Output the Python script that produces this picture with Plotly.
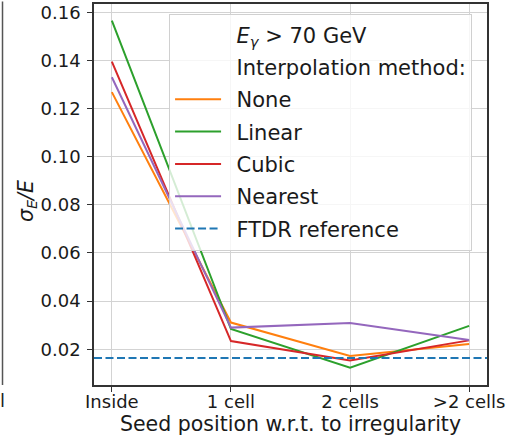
import plotly.graph_objects as go

categories = ["Inside", "1 cell", "2 cells", ">2 cells"]
none_vals = [0.1268, 0.0311, 0.0172, 0.0222]
linear_vals = [0.1565, 0.0284, 0.0124, 0.0297]
cubic_vals = [0.1395, 0.0234, 0.0154, 0.0237]
nearest_vals = [0.1330, 0.0290, 0.0309, 0.0239]
ftdr_ref = 0.0164
y_ticks = [0.02, 0.04, 0.06, 0.08, 0.10, 0.12, 0.14, 0.16]

series = [
    ("None", none_vals, "#ff7f0e"),
    ("Linear", linear_vals, "#2ca02c"),
    ("Cubic", cubic_vals, "#d62728"),
    ("Nearest", nearest_vals, "#9467bd"),
]

FONT = "DejaVu Sans"
PAD = "\u2002"
fig = go.Figure()

# header rows of legend (no line)
for i, txt in enumerate(["<i>E<sub>γ</sub></i> &gt; 70 GeV", "Interpolation method:"]):
    fig.add_trace(go.Scatter(x=[None], y=[None], mode="lines", name=PAD + txt,
                             line=dict(color="rgba(0,0,0,0)", width=2),
                             legendgroup=f"h{i}", hoverinfo="skip"))

for name, vals, col in series:
    fig.add_trace(go.Scatter(x=categories, y=vals, mode="lines", name=PAD + name,
                             line=dict(color=col, width=2), legendgroup=name))

fig.add_hline(y=ftdr_ref, line=dict(color="#1f77b4", width=2, dash="8px,3.5px"),
              showlegend=True, name=PAD + "FTDR reference", legendgroup="ftdr")

# y-axis title as rotated annotation for exact placement
fig.add_annotation(text="<i>σ<sub>E</sub>/E</i>", xref="paper", yref="paper",
                   x=-0.1705, y=0.483, xanchor="center", yanchor="middle",
                   textangle=-90, showarrow=False,
                   font=dict(family=FONT, size=20.5, color="#1a1a1a"))

# fragment of neighbouring panel at left edge (its right spine + cut label)
fig.add_annotation(text="", xref="paper", yref="paper", x=-0.2328, y=0,
                   showarrow=True, axref="pixel", ayref="pixel", ax=0, ay=-385,
                   arrowhead=0, arrowwidth=1.5, arrowcolor="#555555", standoff=0,
                   startstandoff=0)
fig.add_annotation(text="el", xref="paper", yref="paper", x=-0.2214, y=-0.04,
                   xanchor="right", yanchor="middle", showarrow=False,
                   font=dict(family=FONT, size=18, color="#222222"))

fig.update_layout(
    width=506, height=436,
    margin=dict(l=94, r=19, t=4, b=51),
    paper_bgcolor="white", plot_bgcolor="white",
    font=dict(family=FONT, color="#1a1a1a"),
    showlegend=True,
    legend=dict(x=0.191, y=0.975, xanchor="left", yanchor="top",
                bgcolor="rgba(255,255,255,0.8)", bordercolor="#d0d0d0", borderwidth=1,
                font=dict(family=FONT, size=21, color="#1a1a1a"),
                tracegroupgap=2, itemwidth=46),
)
fig.update_xaxes(type="category", categoryorder="array", categoryarray=categories,
                 range=[-0.15, 3.15], showgrid=True, gridcolor="#d3d3d3", gridwidth=1,
                 showline=True, linecolor="#333333", linewidth=1.5, mirror=True,
                 ticks="outside", ticklen=5, tickcolor="#333333",
                 ticklabelstandoff=-5,
                 tickfont=dict(family=FONT, size=18, color="#1a1a1a"),
                 title=dict(text="Seed position w.r.t. to irregularity",
                            font=dict(family=FONT, size=20.5, color="#1a1a1a"), standoff=2),
                 automargin=False, zeroline=False)
fig.update_yaxes(range=[0.00517, 0.1634], tickvals=y_ticks, tickformat=".2f",
                 showgrid=True, gridcolor="#d3d3d3", gridwidth=1,
                 showline=True, linecolor="#333333", linewidth=1.5, mirror=True,
                 ticks="outside", ticklen=5, tickcolor="#333333",
                 ticklabelstandoff=3,
                 tickfont=dict(family=FONT, size=18, color="#1a1a1a"),
                 automargin=False, zeroline=False)

fig.write_html("out.html", config={"displayModeBar": False},
               post_script="document.body.style.margin='0';")
